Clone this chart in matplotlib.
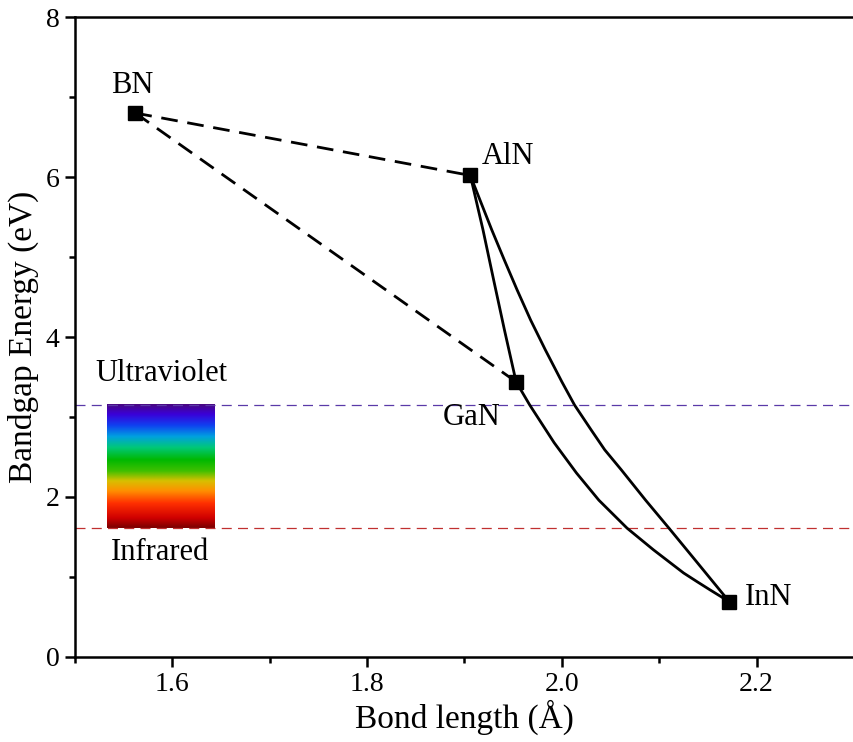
import numpy as np
import matplotlib.pyplot as plt
from matplotlib.colors import LinearSegmentedColormap

plt.rcParams['font.family'] = ['Liberation Serif', 'DejaVu Serif']

# binary nitrides: bond length (A), bandgap (eV)
names    = ["BN", "AlN", "GaN", "InN"]
bond_len = [1.562, 1.906, 1.953, 2.172]
gap      = [6.80, 6.02, 3.44, 0.69]

# ternary bowing curves
aln_gan_x = [1.906, 1.919, 1.930, 1.941, 1.953]
aln_gan_y = [6.02, 5.34, 4.71, 4.09, 3.44]

aln_inn_x = [1.906, 1.916, 1.928, 1.941, 1.954, 1.968, 1.983, 2.000, 2.013,
             2.030, 2.044, 2.061, 2.086, 2.110, 2.137, 2.172]
aln_inn_y = [6.02, 5.71, 5.34, 4.96, 4.59, 4.21, 3.84, 3.44, 3.15,
             2.84, 2.59, 2.34, 1.96, 1.61, 1.21, 0.69]

gan_inn_x = [1.953, 1.967, 1.992, 2.015, 2.038, 2.067, 2.094, 2.125, 2.139, 2.152, 2.172]
gan_inn_y = [3.44, 3.15, 2.68, 2.30, 1.96, 1.61, 1.34, 1.05, 0.94, 0.84, 0.69]

UV_EDGE = 3.15
IR_EDGE = 1.61
spec_x  = [1.533, 1.643]

fig = plt.figure(figsize=(8.54, 7.42), dpi=100)
ax = fig.add_axes([0.0878, 0.1146, 0.9122, 0.8624])

# dashed links from BN
for j in (1, 2):
    ax.plot([bond_len[0], bond_len[j]], [gap[0], gap[j]], color="black",
            lw=2, dashes=(6, 3.5), zorder=3)

for cx, cy in [(aln_gan_x, aln_gan_y), (aln_inn_x, aln_inn_y), (gan_inn_x, gan_inn_y)]:
    ax.plot(cx, cy, color="black", lw=2, zorder=3, solid_joinstyle="round")

ax.plot(bond_len, gap, ls="none", marker="s", ms=9.5, color="black", zorder=4)

# visible spectrum block
spec = LinearSegmentedColormap.from_list("spec", [
    (0.00, "#7a0000"), (0.08, "#d00000"), (0.20, "#ff3000"), (0.30, "#ff9000"),
    (0.38, "#d8c000"), (0.46, "#40c000"), (0.55, "#00b800"), (0.65, "#00c878"),
    (0.74, "#00a0e0"), (0.83, "#1040f0"), (0.92, "#3a00d8"), (1.00, "#4a0880")])
grad = np.linspace(0, 1, 256).reshape(-1, 1)
ax.imshow(grad, cmap=spec, origin="lower", aspect="auto",
          extent=[spec_x[0], spec_x[1], IR_EDGE, UV_EDGE], zorder=1)

ax.axhline(UV_EDGE, color="#5a3aa8", lw=0.9, dashes=(8, 5), zorder=2)
ax.axhline(IR_EDGE, color="#c03030", lw=0.9, dashes=(8, 5), zorder=2)

lbl = dict(fontsize=22, ha="center", va="center")
ax.text(1.559, 7.15, "BN", **lbl)
ax.text(1.945, 6.26, "AlN", **lbl)
ax.text(1.907, 3.00, "GaN", **lbl)
ax.text(2.212, 0.74, "InN", **lbl)
ax.text(1.589, 3.54, "Ultraviolet", **lbl)
ax.text(1.587, 1.31, "Infrared", **lbl)

ax.set_xlim(1.5, 2.3)
ax.set_ylim(0, 8)
ax.set_xticks([1.6, 1.8, 2.0, 2.2])
ax.set_xticks([1.5, 1.7, 1.9, 2.1, 2.3], minor=True)
ax.set_yticks([0, 2, 4, 6, 8])
ax.set_yticks([1, 3, 5, 7], minor=True)
ax.set_xticklabels(["1.6", "1.8", "2.0", "2.2"])

ax.tick_params(which="major", direction="out", length=7, width=1.8, labelsize=20, pad=4)
ax.tick_params(which="minor", direction="out", length=4.5, width=1.8)
ax.spines["right"].set_visible(False)
for s in ("left", "bottom", "top"):
    ax.spines[s].set_linewidth(1.8)

ax.set_xlabel("Bond length (Å)", fontsize=24, labelpad=2)
ax.set_ylabel("Bandgap Energy (eV)", fontsize=24, labelpad=5)

fig.savefig("out.png", dpi=100)
